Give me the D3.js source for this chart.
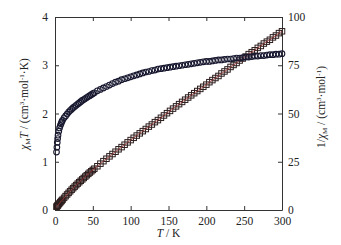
<!DOCTYPE html>
<html><head><meta charset="utf-8">
<script src="https://cdn.jsdelivr.net/npm/d3@7"></script>
<style>body{margin:0;background:#fff}svg{display:block}text{font-family:"Liberation Serif",serif;fill:#222}</style>
</head><body><svg id="c" width="341" height="245"></svg>
<script>
const temps = [2,2.5,3,3.5,4,5,6,7,8,9,10,
 12,14,16,18,20,22,24,26,28,30,32,34,36,38,40,42,44,46,48,50,52,56,60,64,68,72,76,80,84,88,92,96,100,
 104,108,112,116,120,124,128,132,136,140,144,148,152,156,160,164,168,172,176,180,184,188,192,196,200,
 204,208,212,216,220,224,228,232,236,240,244,248,252,256,260,264,268,272,276,280,284,288,292,296,300];
const chiT = [1.20,1.30,1.40,1.48,1.55,1.63,1.70,1.75,1.79,1.83,1.86,
 1.91,1.95,1.99,2.03,2.06,2.09,2.12,2.145,2.17,2.195,2.22,2.245,2.27,2.29,2.31,2.33,2.35,2.37,2.39,2.41,2.43,2.47,2.50,2.53,2.56,2.59,2.62,2.65,2.67,2.70,2.72,2.74,2.76,
 2.78,2.80,2.82,2.84,2.86,2.87,2.89,2.90,2.92,2.93,2.94,2.95,2.96,2.97,2.98,2.99,3.00,3.01,3.02,3.03,3.04,3.05,3.06,3.07,3.08,
 3.08,3.09,3.10,3.11,3.11,3.12,3.13,3.13,3.14,3.15,3.15,3.16,3.17,3.17,3.18,3.19,3.19,3.20,3.20,3.21,3.22,3.22,3.23,3.23,3.24];
const invChi = [1.67,1.92,2.14,2.36,2.58,3.07,3.53,4.00,4.47,4.92,5.38,
 6.28,7.18,8.04,8.87,9.71,10.53,11.32,12.12,12.90,13.67,14.41,15.14,15.86,16.59,17.32,18.03,18.72,19.41,20.08,20.75,21.40,22.67,24.00,25.30,26.56,27.80,29.01,30.19,31.46,32.59,33.82,35.04,36.23,
 37.41,38.57,39.72,40.85,41.96,43.21,44.29,45.52,46.58,47.78,48.98,50.17,51.35,52.53,53.69,54.85,56.00,57.14,58.28,59.41,60.53,61.64,62.75,63.84,64.94,
 66.23,67.31,68.39,69.45,70.74,71.79,72.84,74.12,75.16,76.19,77.46,78.48,79.50,80.76,81.76,82.76,84.01,85.00,86.25,87.23,88.20,89.44,90.40,91.64,92.59];
const xTicks = [0,50,100,150,200,250,300];
const yLeftTicks = [0,1,2,3,4];
const yRightTicks = [0,25,50,75,100];

const svg = d3.select("#c");
const L=55,R=282,T=17,B=210;
const x = d3.scaleLinear().domain([0,300]).range([L,R]);
const yL = d3.scaleLinear().domain([0,4]).range([B,T]);
const yR = d3.scaleLinear().domain([0,100]).range([B,T]);

const fs = "11.5px";
const fmt = d3.format("d");
const gb = svg.append("g").attr("transform",`translate(0,${B})`).call(d3.axisBottom(x).tickValues(xTicks).tickFormat(fmt).tickSizeInner(-4).tickSizeOuter(0).tickPadding(7));
const gt = svg.append("g").attr("transform",`translate(0,${T})`).call(d3.axisTop(x).tickValues(xTicks).tickSizeInner(-4).tickSizeOuter(0).tickFormat(""));
const gl = svg.append("g").attr("transform",`translate(${L},0)`).call(d3.axisLeft(yL).tickValues(yLeftTicks).tickFormat(fmt).tickSizeInner(-4).tickSizeOuter(0).tickPadding(7));
const gr = svg.append("g").attr("transform",`translate(${R},0)`).call(d3.axisRight(yR).tickValues(yRightTicks).tickFormat(fmt).tickSizeInner(-4).tickSizeOuter(0).tickPadding(6));
[gb,gt,gl,gr].forEach(g=>{
  g.attr("font-family",null).attr("font-size",null);
  g.selectAll(".domain").attr("stroke","#333");
  g.selectAll(".tick line").attr("stroke","#333");
  g.selectAll(".tick text").style("font-family","'Liberation Serif', serif").style("font-size",fs).attr("fill","#222");
});

const data = temps.map((t,i)=>({t, c:chiT[i], inv:invChi[i]}));
const sq = 5.5;
svg.append("g").selectAll("rect").data(data).join("rect")
  .attr("x",d=>x(d.t)-sq/2).attr("y",d=>yR(d.inv)-sq/2)
  .attr("width",sq).attr("height",sq)
  .attr("fill","none").attr("stroke","#2e1e1e").attr("stroke-width",1);
svg.append("path").datum(data)
  .attr("d",d3.line().x(d=>x(d.t)).y(d=>yR(d.inv)))
  .attr("fill","none").attr("stroke","#a03434").attr("stroke-width",0.8);
svg.append("g").selectAll("circle").data(data).join("circle")
  .attr("cx",d=>x(d.t)).attr("cy",d=>yL(d.c)).attr("r",2.8)
  .attr("fill","none").attr("stroke","#181830").attr("stroke-width",1.1);

const xl = svg.append("text").attr("x",(L+R)/2).attr("y",237).attr("text-anchor","middle").style("font-size",fs);
xl.append("tspan").attr("font-style","italic").text("T");
xl.append("tspan").text(" / K");

const ll = svg.append("text").attr("transform","translate(28,104) rotate(-90)").attr("text-anchor","middle").style("font-size",fs);
ll.append("tspan").attr("font-style","italic").text("χ");
ll.append("tspan").style("font-size","7px").attr("dy",2).text("M");
ll.append("tspan").attr("font-style","italic").attr("dy",-2).text("T");
ll.append("tspan").text(" / (cm");
ll.append("tspan").style("font-size","7px").attr("dy",-4).text("3");
ll.append("tspan").attr("dy",4).text("·mol");
ll.append("tspan").style("font-size","7px").attr("dy",-4).text("-1");
ll.append("tspan").attr("dy",4).text("·K)");

const rl = svg.append("text").attr("transform","translate(325,107) rotate(-90)").attr("text-anchor","middle").style("font-size",fs);
rl.append("tspan").text("1/");
rl.append("tspan").attr("font-style","italic").text("χ");
rl.append("tspan").style("font-size","7px").attr("dy",2).text("M");
rl.append("tspan").attr("dy",-2).text(" / (cm");
rl.append("tspan").style("font-size","7px").attr("dy",-4).text("3");
rl.append("tspan").attr("dy",4).text("·mol");
rl.append("tspan").style("font-size","7px").attr("dy",-4).text("-1");
rl.append("tspan").attr("dy",4).text(")");
</script></body></html>
